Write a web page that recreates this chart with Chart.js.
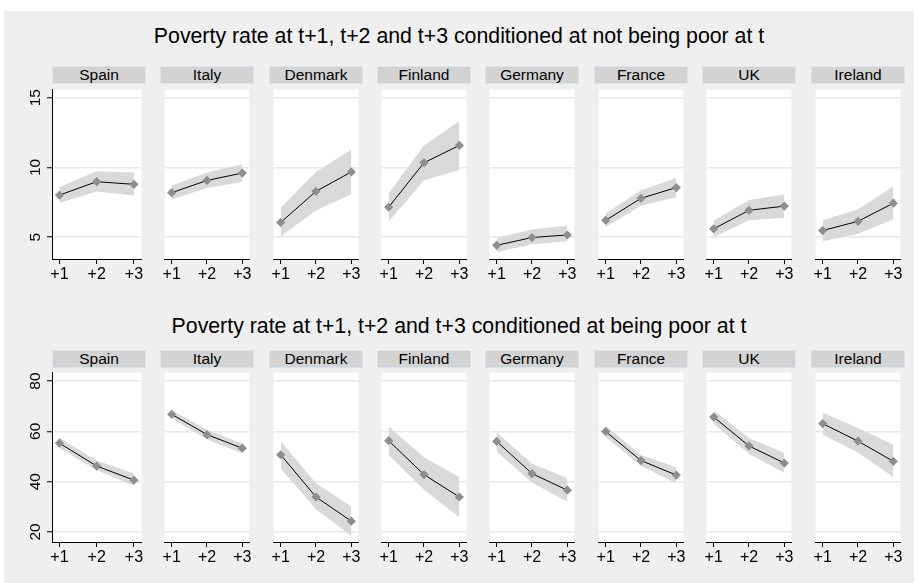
<!DOCTYPE html>
<html>
<head>
<meta charset="utf-8">
<script src="https://cdn.jsdelivr.net/npm/chart.js@4/dist/chart.umd.min.js"></script>
<style>
  html, body { margin: 0; padding: 0; background: #fff; }
  body { width: 918px; height: 583px; position: relative; overflow: hidden;
         font-family: "Liberation Sans", Arial, sans-serif; }
  #frame { position: absolute; left: 4px; top: 11px; width: 910px; height: 572px; background: #efefef; }
  .title { position: absolute; left: 4px; width: 910px; text-align: center; font-size: 21.3px;
           font-weight: normal; color: #000; white-space: nowrap; }
  .strip { position: absolute; height: 18px; background: #d3d3d3; border: 1px solid #d9e5ec;
           box-sizing: border-box; text-align: center; font-size: 15.5px; font-weight: normal;
           line-height: 16px; color: #000; }
  canvas { position: absolute; }
</style>
</head>
<body>
<div id="frame"></div>
<script>
// Countries shown as facets, left to right
const countries = ['Spain', 'Italy', 'Denmark', 'Finland', 'Germany', 'France', 'UK', 'Ireland'];
const horizons = [1, 2, 3];
const horizonLabels = ['+1', '+2', '+3'];

const titleNotPoor = 'Poverty rate at t+1, t+2 and t+3 conditioned at not being poor at t';
const titlePoor = 'Poverty rate at t+1, t+2 and t+3 conditioned at being poor at t';

// Poverty rate (%) among those not poor at t, with confidence band
const notPoorRate = [
  [8.02, 8.98, 8.79],
  [8.19, 9.07, 9.60],
  [6.06, 8.29, 9.68],
  [7.15, 10.34, 11.58],
  [4.42, 4.98, 5.16],
  [6.21, 7.79, 8.56],
  [5.60, 6.93, 7.23],
  [5.48, 6.14, 7.44]
];
const notPoorLow = [
  [7.46, 8.28, 7.99],
  [7.70, 8.53, 8.95],
  [5.06, 6.93, 8.07],
  [6.13, 9.06, 9.84],
  [3.95, 4.49, 4.72],
  [5.74, 7.26, 7.86],
  [5.00, 6.21, 6.39],
  [4.72, 5.25, 6.28]
];
const notPoorHigh = [
  [8.60, 9.72, 9.64],
  [8.70, 9.64, 10.23],
  [7.11, 9.67, 11.28],
  [8.16, 11.58, 13.33],
  [4.95, 5.56, 5.84],
  [6.70, 8.37, 9.25],
  [6.18, 7.67, 8.07],
  [6.22, 7.00, 8.63]
];

// Poverty rate (%) among those poor at t, with confidence band
const poorRate = [
  [55.3, 46.2, 40.6],
  [66.8, 58.7, 53.3],
  [50.7, 33.9, 24.3],
  [56.3, 42.8, 33.9],
  [56.0, 43.2, 36.6],
  [59.9, 48.4, 42.6],
  [65.7, 54.2, 47.4],
  [63.1, 56.1, 48.1]
];
const poorLow = [
  [53.4, 44.5, 38.4],
  [65.2, 56.8, 51.3],
  [45.2, 29.0, 18.5],
  [50.6, 36.8, 25.8],
  [51.9, 39.7, 32.0],
  [57.8, 46.2, 39.4],
  [63.0, 51.0, 43.5],
  [58.7, 51.6, 41.9]
];
const poorHigh = [
  [57.5, 48.4, 43.2],
  [68.4, 60.6, 55.2],
  [56.1, 39.4, 30.1],
  [61.9, 49.7, 41.9],
  [59.6, 47.1, 41.5],
  [62.2, 50.6, 45.7],
  [68.4, 57.4, 51.4],
  [67.4, 61.3, 54.7]
];

const notPoorTicks = [5, 10, 15];
const poorTicks = [20, 40, 60, 80];

// ---- layout of the two rows of small multiples ----
const FONT = '"Liberation Sans", Arial, sans-serif';
const PANEL_W = 94;
const PLOT_H = 174;
const XAXIS_H = 30;
const Y_AXIS_W = 42;
const panelLeft = i => Math.round(51.7 + i * 108.43);

const rows = [
  { title: titleNotPoor, titleTop: 24, stripTop: 66, plotTop: 85, yMin: 3.44, yMax: 15.58,
    ticks: notPoorTicks, rate: notPoorRate, low: notPoorLow, high: notPoorHigh },
  { title: titlePoor, titleTop: 314, stripTop: 350, plotTop: 368, yMin: 16.0, yMax: 83.37,
    ticks: poorTicks, rate: poorRate, low: poorLow, high: poorHigh }
];

// White plot region behind the marks
const plotBackground = {
  id: 'plotBackground',
  beforeDraw(chart) {
    const a = chart.chartArea;
    const ctx = chart.ctx;
    ctx.save();
    ctx.fillStyle = '#fff';
    ctx.fillRect(a.left, a.top, a.right - a.left, a.bottom - a.top);
    ctx.restore();
  }
};

// Rotated (bottom-to-top) y tick labels, placed from the y scale
const rotatedYLabels = {
  id: 'rotatedYLabels',
  afterDraw(chart, args, opts) {
    if (!opts.show) return;
    const ys = chart.scales.y;
    const ctx = chart.ctx;
    ctx.save();
    ctx.font = '15.5px ' + FONT;
    ctx.fillStyle = '#000';
    ctx.textAlign = 'center';
    ctx.textBaseline = 'middle';
    ys.ticks.forEach(t => {
      ctx.save();
      ctx.translate(opts.x, ys.getPixelForValue(t.value));
      ctx.rotate(-Math.PI / 2);
      ctx.fillText(String(t.value), 0, 0);
      ctx.restore();
    });
    ctx.restore();
  }
};

const pts = arr => arr.map((v, k) => ({ x: horizons[k], y: v }));

rows.forEach(row => {
  const t = document.createElement('div');
  t.className = 'title';
  t.style.top = row.titleTop + 'px';
  t.textContent = row.title;
  document.body.appendChild(t);

  countries.forEach((name, i) => {
    const first = i === 0;
    const yW = first ? Y_AXIS_W : 0;
    const left = panelLeft(i);

    const strip = document.createElement('div');
    strip.className = 'strip';
    strip.style.left = left + 'px';
    strip.style.top = row.stripTop + 'px';
    strip.style.width = PANEL_W + 'px';
    strip.textContent = name;
    document.body.appendChild(strip);

    const cv = document.createElement('canvas');
    cv.width = PANEL_W + yW;
    cv.height = PLOT_H + XAXIS_H;
    cv.style.left = (left - yW) + 'px';
    cv.style.top = row.plotTop + 'px';
    cv.style.width = cv.width + 'px';
    cv.style.height = cv.height + 'px';
    document.body.appendChild(cv);

    new Chart(cv, {
      type: 'line',
      data: {
        datasets: [
          { data: pts(row.low[i]), borderWidth: 0, pointRadius: 0, fill: false,
            backgroundColor: '#d9d9d9', order: 2 },
          { data: pts(row.high[i]), borderWidth: 0, pointRadius: 0, fill: '-1',
            backgroundColor: '#d9d9d9', order: 1 },
          { data: pts(row.rate[i]), borderColor: '#000', borderWidth: 1, fill: false,
            pointStyle: 'rectRot', pointRadius: 4.6, pointBackgroundColor: '#8e8e8e',
            pointBorderColor: '#8e8e8e', pointBorderWidth: 0, order: 0 }
        ]
      },
      options: {
        responsive: false,
        animation: false,
        events: [],
        layout: { padding: 0 },
        plugins: {
          legend: { display: false },
          tooltip: { enabled: false },
          rotatedYLabels: { show: first, x: yW - 16 }
        },
        scales: {
          x: {
            type: 'linear', min: 0.8, max: 3.2,
            afterBuildTicks: s => { s.ticks = horizons.map(v => ({ value: v })); },
            afterFit: s => { s.height = XAXIS_H; },
            ticks: {
              callback: v => horizonLabels[horizons.indexOf(v)],
              font: { size: 16, family: FONT }, color: '#000',
              padding: 1, maxRotation: 0, autoSkip: false
            },
            grid: { drawOnChartArea: false, drawTicks: true, tickLength: 5, tickColor: '#000', tickWidth: 1 },
            border: { display: true, color: '#000', width: 1 }
          },
          y: {
            min: row.yMin, max: row.yMax,
            afterBuildTicks: s => { s.ticks = row.ticks.map(v => ({ value: v })); },
            afterFit: s => { s.width = yW; },
            ticks: { display: false },
            grid: { color: '#e8e8e8', lineWidth: 1.5, drawTicks: first, tickLength: 5,
                    tickColor: '#000', tickWidth: 1 },
            border: { display: first, color: '#000', width: 1 }
          }
        }
      },
      plugins: [plotBackground, rotatedYLabels]
    });
  });
});
</script>
</body>
</html>
